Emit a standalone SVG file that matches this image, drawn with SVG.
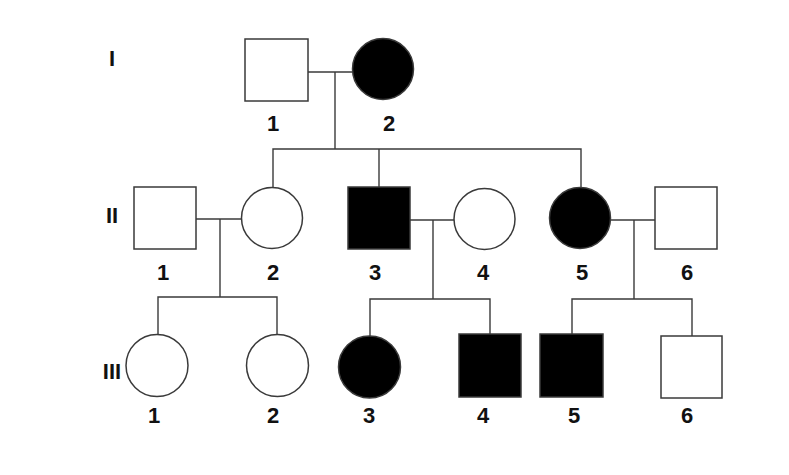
<svg xmlns="http://www.w3.org/2000/svg" width="789" height="475" viewBox="0 0 789 475">
<style>
.n{stroke:#3a3a3a;stroke-width:1.5}
.u{fill:#fff}
.a{fill:#000}
.c line,.c path{stroke:#3a3a3a;stroke-width:1.4;fill:none}
text{font-family:"Liberation Sans",Arial,sans-serif;font-weight:bold;font-size:22px;fill:#111;text-anchor:middle}
</style>
<rect width="789" height="475" fill="#fff"/>
<g id="connectors" class="c">
<line x1="308" y1="72" x2="353" y2="72"/>
<line x1="335" y1="72" x2="335" y2="149"/>
<path d="M273 187V149H581V187"/>
<line x1="379" y1="149" x2="379" y2="187"/>
<line x1="196" y1="219" x2="242" y2="219"/>
<path d="M220 219V297"/>
<path d="M158 334V297H277V334"/>
<line x1="410" y1="220" x2="455" y2="220"/>
<path d="M433 220V299"/>
<path d="M370 336V299H490V334"/>
<line x1="610" y1="220" x2="655" y2="220"/>
<path d="M634 220V299"/>
<path d="M572 334V299H692V336"/>
</g>
<g id="gen-labels">
<text x="112" y="66">I</text>
<text x="112" y="223">II</text>
<text x="112" y="379">III</text>
</g>
<g id="I-1"><rect class="n u" x="245" y="39" width="63" height="62"/><text x="273" y="131">1</text></g>
<g id="I-2"><circle class="n a" cx="383" cy="69" r="30.5"/><text x="389" y="131">2</text></g>
<g id="II-1"><rect class="n u" x="134" y="187" width="62" height="62"/><text x="163" y="280">1</text></g>
<g id="II-2"><circle class="n u" cx="272" cy="218" r="30.5"/><text x="273" y="280">2</text></g>
<g id="II-3"><rect class="n a" x="348" y="187" width="62" height="62"/><text x="375" y="280">3</text></g>
<g id="II-4"><circle class="n u" cx="484.5" cy="219" r="30.5"/><text x="483" y="280">4</text></g>
<g id="II-5"><circle class="n a" cx="580" cy="218" r="30.5"/><text x="582" y="280">5</text></g>
<g id="II-6"><rect class="n u" x="655" y="187" width="62" height="62"/><text x="687" y="280">6</text></g>
<g id="III-1"><circle class="n u" cx="157" cy="365.5" r="31"/><text x="154" y="423">1</text></g>
<g id="III-2"><circle class="n u" cx="277.5" cy="365.5" r="31"/><text x="273" y="423">2</text></g>
<g id="III-3"><circle class="n a" cx="369.5" cy="367" r="31"/><text x="369" y="423">3</text></g>
<g id="III-4"><rect class="n a" x="459" y="334" width="62" height="63"/><text x="483" y="423">4</text></g>
<g id="III-5"><rect class="n a" x="540" y="334" width="63" height="63"/><text x="574" y="423">5</text></g>
<g id="III-6"><rect class="n u" x="661" y="336" width="61" height="62"/><text x="687" y="423">6</text></g>
</svg>
